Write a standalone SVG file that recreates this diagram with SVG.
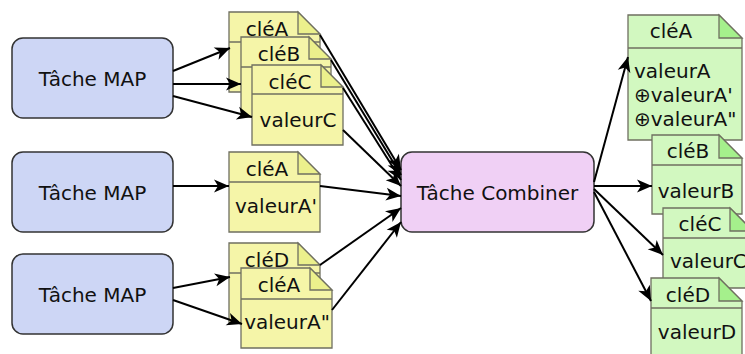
<svg xmlns="http://www.w3.org/2000/svg" width="745" height="354" viewBox="0 0 745 354">
  <style>
    text { font-family: "DejaVu Sans", "Liberation Sans", sans-serif; font-size: 20px; fill: #111; }
    .mid { text-anchor: middle; }
    .task { stroke: #333; stroke-width: 1.5; }
    .map { fill: #cdd6f5; }
    .comb { fill: #f0d0f5; }
    .note { stroke: #6f6f60; stroke-width: 1.3; }
    .y { fill: #f5f5a8; }
    .yf { fill: #ebf08c; }
    .g { fill: #d2f8c0; }
    .gf { fill: #a5f08c; }
    .sep { stroke: #6f6f60; stroke-width: 1.3; fill: none; }
    .edge { stroke: #000; stroke-width: 2; fill: none; marker-end: url(#arrow); }
  </style>
  <defs>
    <marker id="arrow" markerUnits="userSpaceOnUse" markerWidth="18" markerHeight="14" viewBox="-16 -7 17 14" refX="0" refY="0" orient="auto">
      <path d="M0,0 L-15,-6.5 L-11,0 L-15,6.5 Z" fill="#000"/>
    </marker>
  </defs>

  <!-- map tasks -->
  <g id="map1"><rect class="task map" x="12" y="38" width="161" height="80" rx="11"/><text class="mid" x="92.5" y="86">Tâche MAP</text></g>
  <g id="map2"><rect class="task map" x="12" y="152" width="161" height="80" rx="11"/><text class="mid" x="92.5" y="200">Tâche MAP</text></g>
  <g id="map3"><rect class="task map" x="12" y="254" width="161" height="80" rx="11"/><text class="mid" x="92.5" y="302">Tâche MAP</text></g>

  <!-- map outputs, first task -->
  <g id="out1A">
    <path class="note y" d="M229,12 H298 L320,34 V92 H229 Z"/>
    <path class="note yf" d="M298,12 V34 H320 Z"/>
    <line class="sep" x1="229" y1="42" x2="320" y2="42"/>
    <text class="mid" x="267" y="36">cléA</text>
  </g>
  <g id="out1B">
    <path class="note y" d="M241,37 H309 L331,59 V117 H241 Z"/>
    <path class="note yf" d="M309,37 V59 H331 Z"/>
    <line class="sep" x1="241" y1="67" x2="331" y2="67"/>
    <text class="mid" x="279" y="61">cléB</text>
  </g>
  <g id="out1C">
    <path class="note y" d="M252,65 H321 L343,87 V145 H252 Z"/>
    <path class="note yf" d="M321,65 V87 H343 Z"/>
    <line class="sep" x1="252" y1="94" x2="343" y2="94"/>
    <text class="mid" x="290" y="89">cléC</text>
    <text class="mid" x="298" y="127">valeurC</text>
  </g>

  <!-- map outputs, second task -->
  <g id="out2A">
    <path class="note y" d="M229,152 H298 L320,174 V232 H229 Z"/>
    <path class="note yf" d="M298,152 V174 H320 Z"/>
    <line class="sep" x1="229" y1="182" x2="320" y2="182"/>
    <text class="mid" x="267" y="176">cléA</text>
    <text class="mid" x="276" y="213">valeurA'</text>
  </g>

  <!-- map outputs, third task -->
  <g id="out3D">
    <path class="note y" d="M229,243 H298 L320,265 V323 H229 Z"/>
    <path class="note yf" d="M298,243 V265 H320 Z"/>
    <line class="sep" x1="229" y1="273" x2="320" y2="273"/>
    <text class="mid" x="267" y="267">cléD</text>
  </g>
  <g id="out3A">
    <path class="note y" d="M241,268 H310 L332,290 V348 H241 Z"/>
    <path class="note yf" d="M310,268 V290 H332 Z"/>
    <line class="sep" x1="241" y1="299" x2="332" y2="299"/>
    <text class="mid" x="279" y="292">cléA</text>
    <text class="mid" x="287" y="329">valeurA"</text>
  </g>

  <!-- combiner -->
  <g id="combiner"><rect class="task comb" x="401" y="152" width="193" height="80" rx="11"/><text class="mid" x="497.5" y="200">Tâche Combiner</text></g>

  <!-- combined outputs -->
  <g id="resA">
    <path class="note g" d="M628,15 H719 L742,38 V140 H628 Z"/>
    <path class="note gf" d="M719,15 V38 H742 Z"/>
    <line class="sep" x1="628" y1="48" x2="742" y2="48"/>
    <text class="mid" x="671" y="38">cléA</text>
    <text x="634" y="78">valeurA</text>
    <text x="634" y="102">⊕valeurA'</text>
    <text x="634" y="126">⊕valeurA"</text>
  </g>
  <g id="resB">
    <path class="note g" d="M652,135 H719 L742,158 V214 H652 Z"/>
    <path class="note gf" d="M719,135 V158 H742 Z"/>
    <line class="sep" x1="652" y1="165" x2="742" y2="165"/>
    <text class="mid" x="688" y="158">cléB</text>
    <text class="mid" x="696" y="198">valeurB</text>
  </g>
  <g id="resC">
    <path class="note g" d="M663,208 H730 L753,231 V288 H663 Z"/>
    <path class="note gf" d="M730,208 V231 H753 Z"/>
    <line class="sep" x1="663" y1="238" x2="753" y2="238"/>
    <text class="mid" x="700" y="231">cléC</text>
    <text x="670" y="268">valeurC</text>
  </g>
  <g id="resD">
    <path class="note g" d="M651,278 H719 L742,301 V360 H651 Z"/>
    <path class="note gf" d="M719,278 V301 H742 Z"/>
    <line class="sep" x1="651" y1="308" x2="742" y2="308"/>
    <text class="mid" x="688" y="302">cléD</text>
    <text class="mid" x="697" y="339">valeurD</text>
  </g>

  <!-- connectors -->
  <g id="connectors">
    <line class="edge" x1="173" y1="71" x2="230" y2="48"/>
    <line class="edge" x1="173" y1="84" x2="241" y2="84"/>
    <line class="edge" x1="173" y1="96" x2="252" y2="117"/>
    <line class="edge" x1="173" y1="186" x2="229" y2="186"/>
    <line class="edge" x1="173" y1="288" x2="230" y2="277"/>
    <line class="edge" x1="173" y1="300" x2="242" y2="324"/>

    <line class="edge" x1="320" y1="35" x2="401" y2="170"/>
    <line class="edge" x1="331" y1="60" x2="401" y2="175"/>
    <line class="edge" x1="343" y1="88" x2="401" y2="180"/>
    <line class="edge" x1="343" y1="130" x2="401" y2="186"/>
    <line class="edge" x1="320" y1="186" x2="401" y2="196"/>
    <line class="edge" x1="320" y1="265" x2="401" y2="208"/>
    <line class="edge" x1="332" y1="310" x2="401" y2="222"/>

    <line class="edge" x1="594" y1="182" x2="628" y2="57"/>
    <line class="edge" x1="594" y1="186" x2="652" y2="186"/>
    <line class="edge" x1="594" y1="189" x2="663" y2="255"/>
    <line class="edge" x1="594" y1="192" x2="651" y2="301"/>
  </g>
</svg>
